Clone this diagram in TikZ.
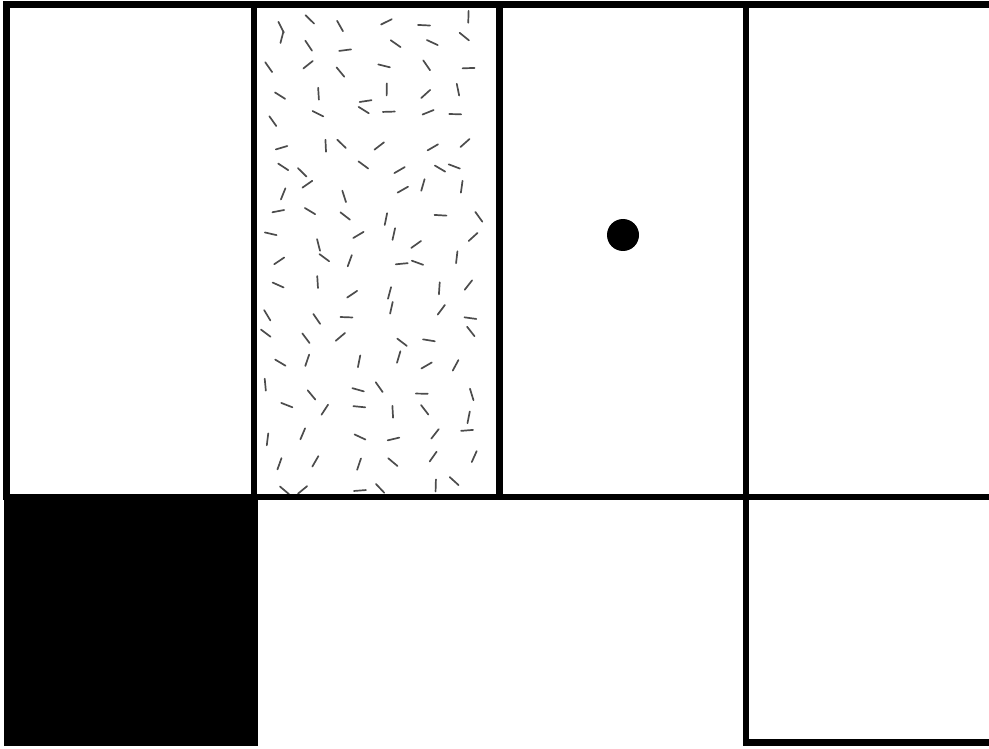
\documentclass[tikz,border=0pt]{standalone}
\begin{document}
\begin{tikzpicture}[x=1pt,y=-1pt,
  wall/.style={line width=6.5pt,line cap=rect},
  fleck/.style={line width=1.7pt,black!70,line cap=round}]
\useasboundingbox (0,0) rectangle (989,749);
\clip (0,0) rectangle (989,749);
% black square
\fill[black] (4,494) rectangle (258,746);
% speckled column
\begin{scope}
\clip (258,8) rectangle (496,493);
\pgfmathsetseed{11}
\foreach \c in {0,...,5}{
  \foreach \r in {0,...,19}{
    \pgfmathsetmacro\px{277+\c*38+rnd*26-13}
    \pgfmathsetmacro\py{20+\r*24.5+rnd*16-8}
    \pgfmathsetmacro\ang{rnd*180}
    \draw[fleck] (\px,\py) ++(\ang:-6) -- ++(\ang:12);
  }
}
\end{scope}
% grid lines
\draw[wall] (6.5,4.5) -- (995,4.5);
\draw[wall] (6.5,497) -- (995,497);
\draw[wall] (6.5,4.5) -- (6.5,497);
\draw[wall] (254,4.5) -- (254,497);
\draw[wall] (499.5,4.5) -- (499.5,497);
\draw[wall] (746,4.5) -- (746,742.5);
\draw[wall] (746,742.5) -- (995,742.5);
% dot
\fill[black] (623,235) circle (16);
\end{tikzpicture}
\end{document}
